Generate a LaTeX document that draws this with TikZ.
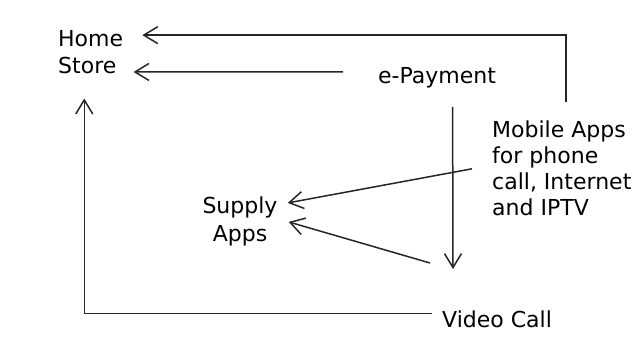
\documentclass[tikz,border=0pt]{standalone}
\usepackage{fontspec}
\newfontfamily\diagfont{DejaVu Sans}
\usetikzlibrary{arrows.meta,positioning}

\begin{document}
\begin{tikzpicture}[
  x=1pt, y=-1pt,
  every node/.style={
    inner sep=0pt,
    font=\diagfont\fontsize{22}{27}\selectfont
  },
  arrow/.style={-{Straight Barb[length=14pt,width=17pt]}, line width=1.5pt, black!85}
]
\useasboundingbox (0,0) rectangle (644,353);

\node (home) [anchor=base west] at (58,46) {Home};
\node (store) [anchor=base west] at (58,73) {Store};
\node (pay) [anchor=base west] at (378,83) {e-Payment};
\node (mobile) [anchor=base west, align=left,
  font=\diagfont\fontsize{22}{26}\selectfont] at (492,215)
  {Mobile Apps\\for phone\\call, Internet\\and IPTV};
\node (supply) [anchor=base, align=center,
  font=\diagfont\fontsize{22}{28}\selectfont] at (240,241) {Supply\\Apps};
\node (video) [anchor=base west] at (442,327) {Video Call};

\coordinate (mtop) at (566,102);
\coordinate (paytip) at (453,269);
\coordinate (paylow) at (430,263);

\draw[arrow] (mtop) |- ([xshift=19pt,yshift=3pt]home.east);
\draw[arrow] ([xshift=-35pt,yshift=5.5pt]pay.west) -- ([xshift=17pt,yshift=-7pt]store.east);
\draw[arrow] ([xshift=15.5pt,yshift=-19pt]pay.south) -- (paytip);
\draw[arrow] ([xshift=-20pt,yshift=-1pt]mobile.west) -- ([xshift=10pt,yshift=18pt]supply.east);
\draw[arrow] (paylow) -- ([xshift=11pt,yshift=-1pt]supply.east);
\draw[arrow] ([xshift=-10pt,yshift=5.5pt]video.west) -| ([xshift=-3pt,yshift=-25pt]store.south);

\end{tikzpicture}
\end{document}
